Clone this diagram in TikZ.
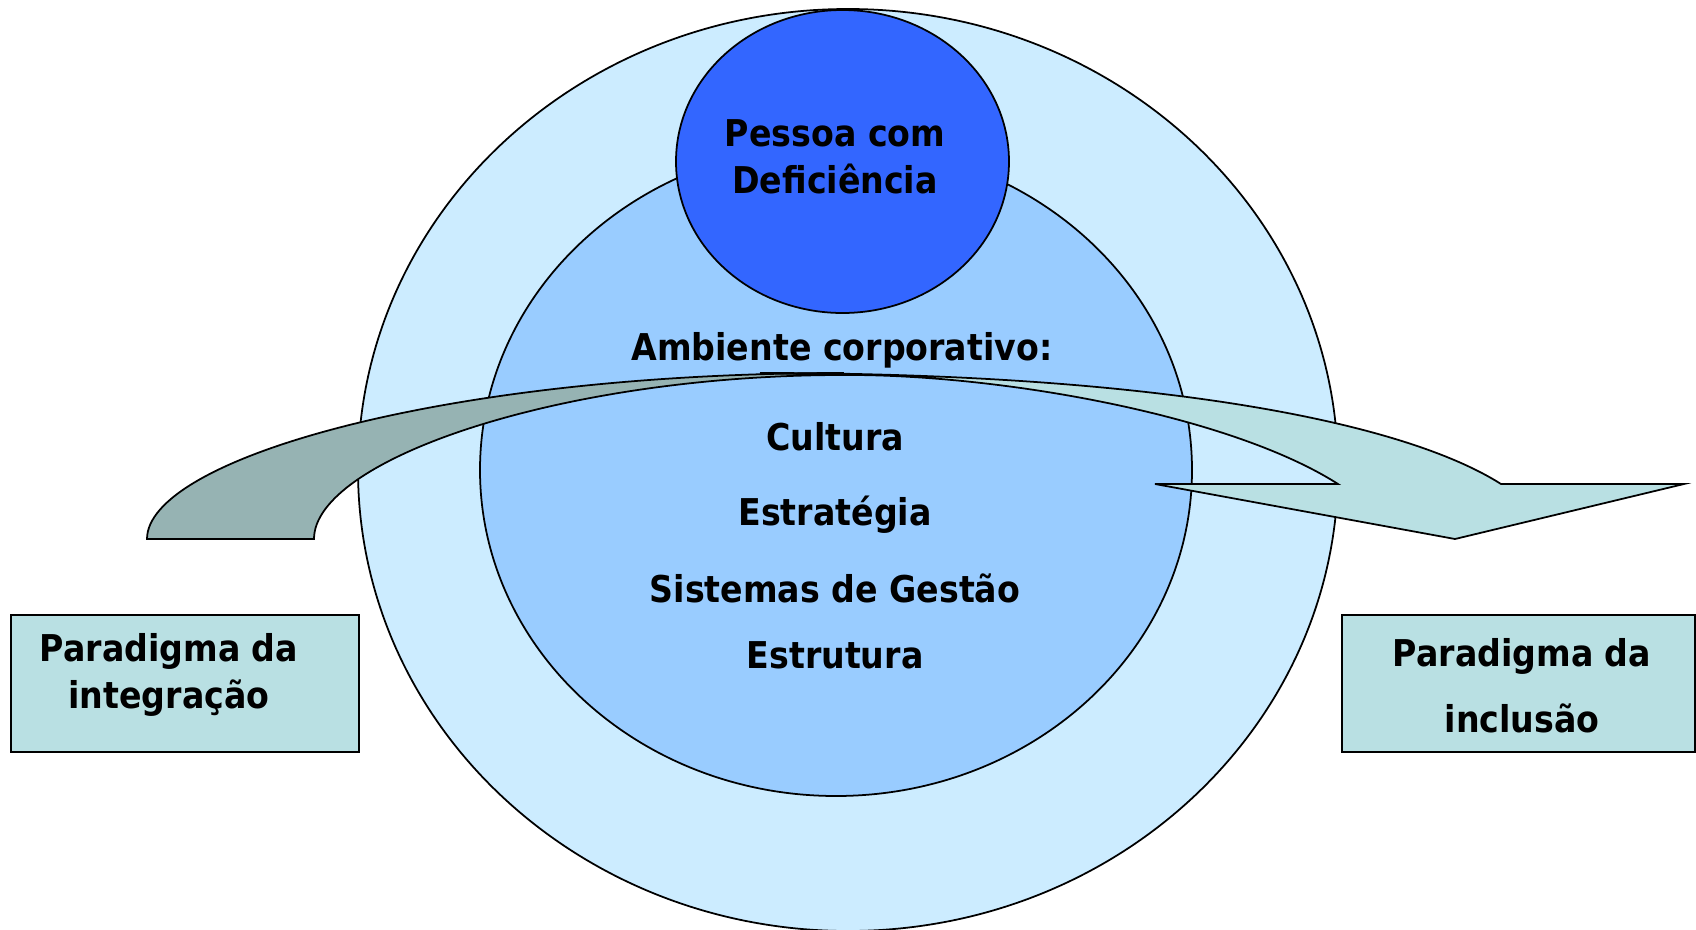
\documentclass[tikz,border=0pt]{standalone}
\usepackage{fontspec}
\newfontfamily\tahoma{DejaVu Sans Condensed Bold}
\definecolor{outerblue}{RGB}{204,236,255}
\definecolor{innerblue}{RGB}{153,204,255}
\definecolor{coreblue}{RGB}{51,102,255}
\definecolor{leftarrow}{RGB}{150,179,179}
\definecolor{paradigm}{RGB}{185,224,227}
\begin{document}
\begin{tikzpicture}[x=0.01cm,y=-0.01cm,
  lbl/.style={font=\fontsize{10.5}{13.1}\selectfont\tahoma,anchor=base,align=center,inner sep=0pt},
  rim/.style={draw=black,line width=0.5pt}]
  \useasboundingbox (0,0) rectangle (1696,930);
  \filldraw[rim,fill=outerblue] (848,470) ellipse [x radius=490,y radius=461];
  \filldraw[rim,fill=innerblue] (836,470) ellipse [x radius=356,y radius=326];
  \filldraw[rim,fill=coreblue] (842.5,161.5) ellipse [x radius=166.5,y radius=151.5];
  \node[lbl] (pessoa) at (835,193) {Pessoa com\\Deficiência};
  \node[lbl] (ambiente) at (842,360) {Ambiente corporativo:};
  \filldraw[rim,fill=leftarrow] (147,539) .. controls (147,460) and (440,373) .. (843,373)
    -- (843,375) .. controls (560,375) and (314,460) .. (314,539) -- cycle;
  \filldraw[rim,fill=paradigm] (760,373) .. controls (1150,373) and (1400,420) .. (1501,484)
    -- (1684,484) -- (1455,539) -- (1155,484) -- (1338,484)
    .. controls (1230,415) and (1000,374) .. (843,375) -- cycle;
  \node[lbl] (cultura) at (835,450) {Cultura};
  \node[lbl] (estrategia) at (835,525) {Estratégia};
  \node[lbl] (sistemas) at (835,602) {Sistemas de Gestão};
  \node[lbl] (estrutura) at (835,668) {Estrutura};
  \filldraw[rim,fill=paradigm] (11,615) rectangle (359,752);
  \filldraw[rim,fill=paradigm] (1342,615) rectangle (1695,752);
  \node[lbl] (integracao) at (169,708) {Paradigma da\\integração};
  \node[lbl] (inclusao) at (1522,732) {Paradigma da\\[5.4pt]inclusão};
\end{tikzpicture}
\end{document}
